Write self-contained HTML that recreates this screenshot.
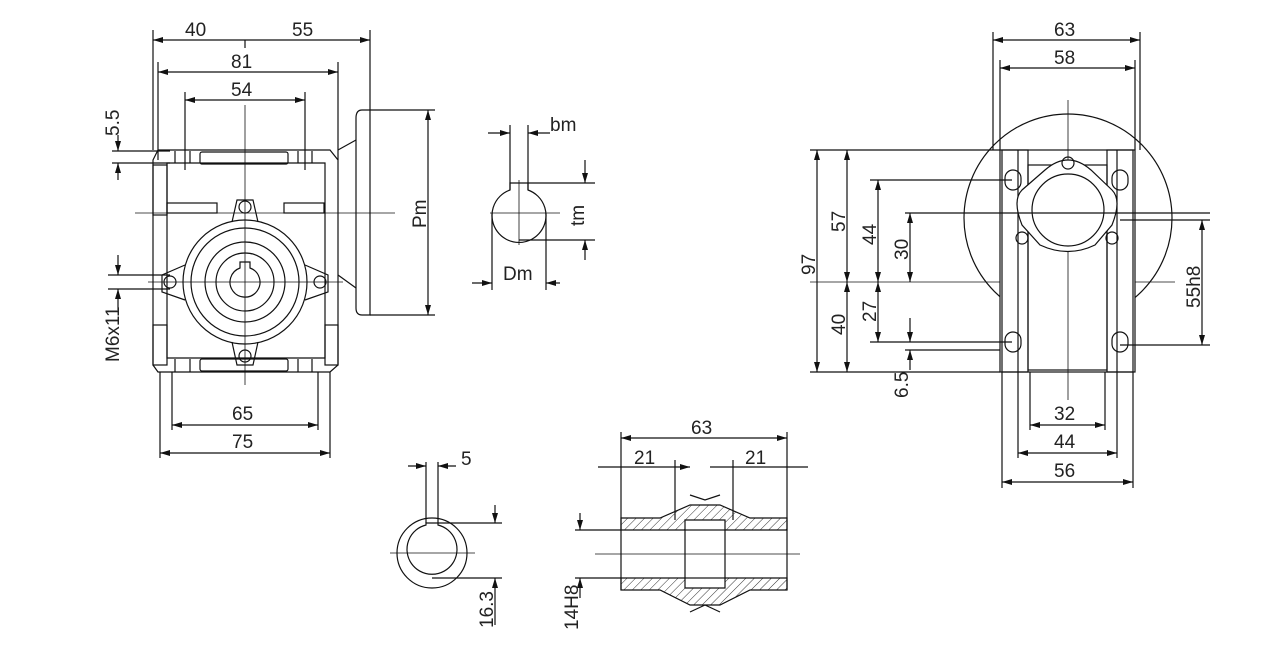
<!DOCTYPE html>
<html><head><meta charset="utf-8"><style>
html,body{margin:0;padding:0;background:#fff;}
svg{display:block;font-family:"Liberation Sans",sans-serif;}
text{font-size:19px;fill:#222;}
</style></head><body>
<svg width="1280" height="648" viewBox="0 0 1280 648" xmlns="http://www.w3.org/2000/svg">
<defs>
<marker id="a" markerWidth="10" markerHeight="6" refX="10" refY="3" orient="auto-start-reverse" markerUnits="userSpaceOnUse"><path d="M0,0 L10,3 L0,6z" fill="#111"/></marker>
<pattern id="h" width="6" height="6" patternUnits="userSpaceOnUse" patternTransform="rotate(45)"><line x1="0" y1="0" x2="0" y2="6" stroke="#333" stroke-width="1"/></pattern>
</defs>
<g stroke="#111" stroke-width="1.2" fill="none">
<line x1="153" y1="30" x2="153" y2="150"/><line x1="370" y1="30" x2="370" y2="110"/>
<line x1="153" y1="40" x2="370" y2="40" marker-start="url(#a)" marker-end="url(#a)"/>
<line x1="245" y1="40" x2="245" y2="48"/>
<line x1="158" y1="62" x2="158" y2="160"/><line x1="338" y1="62" x2="338" y2="160"/>
<line x1="158" y1="72" x2="338" y2="72" marker-start="url(#a)" marker-end="url(#a)"/>
<line x1="185" y1="92" x2="185" y2="170"/><line x1="305" y1="92" x2="305" y2="170"/>
<line x1="185" y1="100" x2="305" y2="100" marker-start="url(#a)" marker-end="url(#a)"/>
<line x1="112" y1="151" x2="170" y2="151"/><line x1="112" y1="163" x2="170" y2="163"/>
<line x1="118" y1="135" x2="118" y2="151" marker-end="url(#a)"/><line x1="118" y1="180" x2="118" y2="163" marker-end="url(#a)"/>
<line x1="108" y1="275" x2="170" y2="275"/><line x1="108" y1="289" x2="170" y2="289"/>
<line x1="118" y1="255" x2="118" y2="275" marker-end="url(#a)"/><line x1="118" y1="310" x2="118" y2="289" marker-end="url(#a)"/>
<line x1="160" y1="372" x2="160" y2="458"/><line x1="330" y1="372" x2="330" y2="458"/>
<line x1="172" y1="372" x2="172" y2="430"/><line x1="318" y1="372" x2="318" y2="430"/>
<line x1="172" y1="425" x2="318" y2="425" marker-start="url(#a)" marker-end="url(#a)"/>
<line x1="160" y1="453" x2="330" y2="453" marker-start="url(#a)" marker-end="url(#a)"/>
<path d="M158,150 L330,150 L338,160 L338,365 L330,372 L158,372 L153,365 L153,160z"/>
<path d="M167,163 L325,163 L325,358 L167,358z"/>
<rect x="200" y="152" width="88" height="12" rx="2"/>
<line x1="175" y1="151" x2="175" y2="163"/><line x1="190" y1="151" x2="190" y2="163"/><line x1="298" y1="151" x2="298" y2="163"/><line x1="312" y1="151" x2="312" y2="163"/>
<rect x="200" y="359" width="88" height="12" rx="2"/>
<line x1="175" y1="359" x2="175" y2="372"/><line x1="190" y1="359" x2="190" y2="372"/><line x1="298" y1="359" x2="298" y2="372"/><line x1="312" y1="359" x2="312" y2="372"/>
<rect x="153" y="165" width="14" height="50"/><rect x="153" y="325" width="14" height="40"/><rect x="325" y="325" width="13" height="40"/>
<rect x="167" y="203" width="50" height="10"/><rect x="284" y="203" width="40" height="10"/>
<line x1="135" y1="213" x2="395" y2="213" stroke-width="0.8"/>
<line x1="245" y1="105" x2="245" y2="385" stroke-width="0.8"/>
<line x1="148" y1="282" x2="343" y2="282" stroke-width="0.8"/>
<circle cx="245" cy="282" r="62"/><circle cx="245" cy="282" r="54"/><circle cx="245" cy="282" r="40"/><circle cx="245" cy="282" r="29"/>
<path d="M240,268 L240,262 L250,262 L250,268 A15,15 0 1 1 240,268z"/>
<path d="M232,222 L237,200 L253,200 L258,222"/><circle cx="245" cy="207" r="6"/>
<path d="M232,342 L237,365 L253,365 L258,342"/><circle cx="245" cy="356" r="6"/>
<path d="M185,265 L162,275 L162,292 L185,300"/><circle cx="170" cy="282" r="6"/>
<path d="M305,265 L328,275 L328,292 L305,300"/><circle cx="320" cy="282" r="6"/>
<path d="M338,150 L356,140 M338,275 L356,288"/>
<path d="M362,110 L370,110 L370,315 L362,315 Q356,315 356,308 L356,118 Q356,110 362,110z"/>
<line x1="370" y1="110" x2="435" y2="110"/><line x1="370" y1="315" x2="435" y2="315"/>
<line x1="428" y1="110" x2="428" y2="315" marker-start="url(#a)" marker-end="url(#a)"/>
<line x1="510" y1="125" x2="510" y2="190"/><line x1="528" y1="125" x2="528" y2="190"/>
<line x1="488" y1="133" x2="510" y2="133" marker-end="url(#a)"/><line x1="550" y1="133" x2="528" y2="133" marker-end="url(#a)"/>
<path d="M510,190 A27,27 0 1 0 528,190 L528,183 L510,183z"/>
<line x1="490" y1="213" x2="560" y2="213" stroke-width="0.8"/><line x1="519" y1="180" x2="519" y2="245" stroke-width="0.8"/>
<line x1="528" y1="183" x2="595" y2="183"/><line x1="519" y1="240" x2="595" y2="240"/>
<line x1="585" y1="160" x2="585" y2="183" marker-end="url(#a)"/><line x1="585" y1="260" x2="585" y2="240" marker-end="url(#a)"/>
<line x1="492" y1="213" x2="492" y2="290"/><line x1="546" y1="213" x2="546" y2="290"/>
<line x1="472" y1="283" x2="492" y2="283" marker-end="url(#a)"/><line x1="560" y1="283" x2="546" y2="283" marker-end="url(#a)"/>
<circle cx="432" cy="553" r="35"/>
<path d="M426,525 A25,25 0 1 0 438,525 L438,523 L426,523z"/>
<line x1="426" y1="462" x2="426" y2="523"/><line x1="438" y1="462" x2="438" y2="523"/>
<line x1="408" y1="466" x2="426" y2="466" marker-end="url(#a)"/><line x1="456" y1="466" x2="438" y2="466" marker-end="url(#a)"/>
<line x1="390" y1="553" x2="475" y2="553" stroke-width="0.8"/>
<line x1="438" y1="523" x2="502" y2="523"/><line x1="432" y1="578" x2="502" y2="578"/>
<line x1="495" y1="505" x2="495" y2="523" marker-end="url(#a)"/><line x1="495" y1="625" x2="495" y2="578" marker-end="url(#a)"/>
<line x1="621" y1="432" x2="621" y2="590"/><line x1="787" y1="432" x2="787" y2="590"/>
<line x1="621" y1="438" x2="787" y2="438" marker-start="url(#a)" marker-end="url(#a)"/>
<line x1="675" y1="460" x2="675" y2="520"/><line x1="733" y1="460" x2="733" y2="520"/>
<line x1="598" y1="467" x2="690" y2="467" marker-end="url(#a)"/>
<line x1="710" y1="467" x2="808" y2="467"/>
<path d="M621,518 L660,518 L690,505 L720,505 L750,518 L787,518 L787,530 L725,530 L725,520 L685,520 L685,530 L621,530z" fill="url(#h)"/>
<path d="M621,578 L685,578 L685,588 L725,588 L725,578 L787,578 L787,590 L750,590 L720,605 L690,605 L660,590 L621,590z" fill="url(#h)"/>
<rect x="685" y="530" width="40" height="48"/>
<path d="M690,495 L705,500 L720,495 M690,612 L705,605 L720,612"/>
<line x1="575" y1="530" x2="621" y2="530"/><line x1="575" y1="578" x2="621" y2="578"/>
<line x1="580" y1="513" x2="580" y2="530" marker-end="url(#a)"/><line x1="580" y1="598" x2="580" y2="578" marker-end="url(#a)"/>
<line x1="595" y1="554" x2="800" y2="554" stroke-width="0.8"/>
<circle cx="1068" cy="218" r="104"/>
<line x1="1068" y1="100" x2="1068" y2="400" stroke-width="0.8"/>
<line x1="810" y1="282" x2="1175" y2="282" stroke-width="0.8"/>
<rect x="1000" y="150" width="135" height="222" fill="#fff"/>
<rect x="1002" y="150" width="26" height="222"/><rect x="1107" y="150" width="26" height="222"/>
<line x1="1018" y1="150" x2="1018" y2="372"/><line x1="1117" y1="150" x2="1117" y2="372"/>
<rect x="1028" y="165" width="79" height="205"/>
<line x1="1068" y1="150" x2="1068" y2="372" stroke-width="0.8"/>
<path d="M1045,170 Q1068,150 1091,170 L1112,190 Q1122,200 1112,225 L1095,245 Q1068,258 1040,245 L1022,225 Q1012,200 1022,190z" fill="#fff"/>
<circle cx="1068" cy="210" r="36"/>
<circle cx="1068" cy="163" r="6"/><circle cx="1022" cy="238" r="6"/><circle cx="1112" cy="238" r="6"/>
<rect x="1005" y="170" width="16" height="20" rx="8"/><rect x="1112" y="170" width="16" height="20" rx="8"/>
<rect x="1005" y="332" width="16" height="20" rx="8"/><rect x="1112" y="332" width="16" height="20" rx="8"/>
<line x1="993" y1="32" x2="993" y2="150"/><line x1="1140" y1="32" x2="1140" y2="150"/>
<line x1="993" y1="40" x2="1140" y2="40" marker-start="url(#a)" marker-end="url(#a)"/>
<line x1="1000" y1="60" x2="1000" y2="150"/><line x1="1135" y1="60" x2="1135" y2="150"/>
<line x1="1000" y1="68" x2="1135" y2="68" marker-start="url(#a)" marker-end="url(#a)"/>
<line x1="810" y1="150" x2="1000" y2="150"/><line x1="810" y1="372" x2="1000" y2="372"/>
<line x1="817" y1="150" x2="817" y2="372" marker-start="url(#a)" marker-end="url(#a)"/>
<line x1="847" y1="150" x2="847" y2="282" marker-start="url(#a)" marker-end="url(#a)"/>
<line x1="847" y1="282" x2="847" y2="372" marker-start="url(#a)" marker-end="url(#a)"/>
<line x1="870" y1="180" x2="1012" y2="180"/><line x1="878" y1="180" x2="878" y2="282" marker-start="url(#a)" marker-end="url(#a)"/>
<line x1="878" y1="282" x2="878" y2="342" marker-start="url(#a)" marker-end="url(#a)"/>
<line x1="870" y1="342" x2="1012" y2="342"/>
<line x1="905" y1="213" x2="1210" y2="213"/><line x1="910" y1="213" x2="910" y2="282" marker-start="url(#a)" marker-end="url(#a)"/>
<line x1="905" y1="350" x2="1000" y2="350"/>
<line x1="910" y1="318" x2="910" y2="342" marker-end="url(#a)"/><line x1="910" y1="370" x2="910" y2="350" marker-end="url(#a)"/>
<line x1="1120" y1="345" x2="1210" y2="345"/><line x1="1120" y1="220" x2="1210" y2="220"/>
<line x1="1202" y1="220" x2="1202" y2="345" marker-start="url(#a)" marker-end="url(#a)"/>
<line x1="1030" y1="372" x2="1030" y2="430"/><line x1="1105" y1="372" x2="1105" y2="430"/>
<line x1="1030" y1="425" x2="1105" y2="425" marker-start="url(#a)" marker-end="url(#a)"/>
<line x1="1018" y1="372" x2="1018" y2="458"/><line x1="1117" y1="372" x2="1117" y2="458"/>
<line x1="1018" y1="453" x2="1117" y2="453" marker-start="url(#a)" marker-end="url(#a)"/>
<line x1="1002" y1="372" x2="1002" y2="488"/><line x1="1133" y1="372" x2="1133" y2="488"/>
<line x1="1002" y1="482" x2="1133" y2="482" marker-start="url(#a)" marker-end="url(#a)"/>
</g>
<g>
<text x="185" y="36">40</text><text x="292" y="36">55</text>
<text x="231" y="68">81</text><text x="231" y="96">54</text>
<text x="232" y="420">65</text><text x="232" y="448">75</text>
<text x="550" y="131">bm</text><text x="503" y="280">Dm</text>
<text x="461" y="465">5</text>
<text x="691" y="434">63</text><text x="634" y="464">21</text><text x="745" y="464">21</text>
<text x="1054" y="36">63</text><text x="1054" y="64">58</text>
<text x="1054" y="420">32</text><text x="1054" y="448">44</text><text x="1054" y="477">56</text>
<text transform="translate(119,136) rotate(-90)">5.5</text>
<text transform="translate(119,362) rotate(-90)">M6x11</text>
<text transform="translate(426,228) rotate(-90)">Pm</text>
<text transform="translate(584,226) rotate(-90)">tm</text>
<text transform="translate(493,628) rotate(-90)">16.3</text>
<text transform="translate(578,630) rotate(-90)">14H8</text>
<text transform="translate(815,275) rotate(-90)">97</text>
<text transform="translate(845,232) rotate(-90)">57</text>
<text transform="translate(845,335) rotate(-90)">40</text>
<text transform="translate(876,245) rotate(-90)">44</text>
<text transform="translate(876,322) rotate(-90)">27</text>
<text transform="translate(908,260) rotate(-90)">30</text>
<text transform="translate(908,398) rotate(-90)">6.5</text>
<text transform="translate(1200,308) rotate(-90)">55h8</text>
</g>
</svg>
</body></html>
